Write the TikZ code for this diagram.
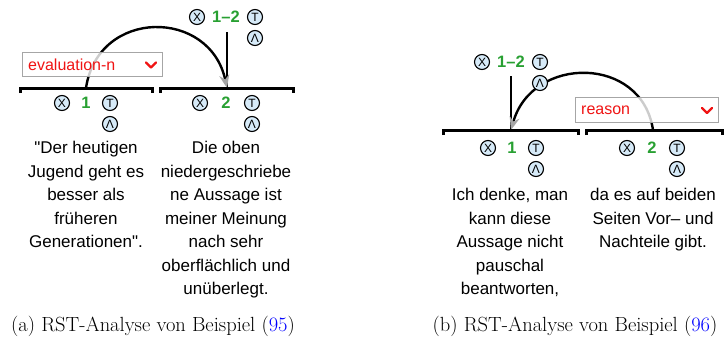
\documentclass[tikz,border=0pt]{standalone}
\usepackage{fontspec}
\newfontfamily\rstfont{Liberation Sans}
\usetikzlibrary{arrows.meta, positioning}
\definecolor{iconblue}{RGB}{214,234,248}
\definecolor{spangreen}{RGB}{40,160,50}
\definecolor{relred}{RGB}{240,20,20}

\begin{document}
\begin{tikzpicture}[x=1pt, y=-1pt, >=Stealth,
  icon/.style={circle, draw, line width=1.1pt, fill=iconblue, minimum size=15pt, inner sep=0pt, font=\rstfont\fontsize{12}{12}\selectfont},
  spanlabel/.style={text=spangreen, inner sep=0pt, font=\rstfont\bfseries\fontsize{16.5}{16.5}\selectfont},
  segtext/.style={align=center, anchor=north, inner sep=0pt, font=\rstfont\fontsize{17}{23.5}\selectfont},
  bracket/.style={line width=3pt},
  relbox/.style={draw=gray!70, line width=1pt, fill=white, fill opacity=0.8, anchor=north west, inner sep=0pt},
  reltext/.style={text=relred, anchor=west, inner sep=0pt, font=\rstfont\fontsize{16}{16}\selectfont},
  chevron/.style={draw=relred, line width=2.4pt, line cap=round, line join=round},
  relarc/.style={line width=2.4pt, -{Stealth[length=13pt, width=10pt, color=gray!70, fill=gray!70]}},
  rootline/.style={line width=2pt},
  caption/.style={font=\rmfamily\fontsize{20.5}{22}\selectfont}]
  \useasboundingbox (0,0) rectangle (728,340);

  % relation arcs (behind the boxes)
  \coordinate (a-sat) at (86,88);
  \coordinate (a-nuc) at (227,88);
  \coordinate (a-root) at (227,32);
  \coordinate (b-sat) at (653,130);
  \coordinate (b-nuc) at (511,130);
  \coordinate (b-root) at (511,76);
  \draw[rootline] (a-root) -- (a-nuc);
  \draw[rootline] (b-root) -- (b-nuc);
  \draw[relarc] (a-sat) .. controls (98,8) and (210,8) .. (a-nuc);
  \draw[relarc] (b-sat) .. controls (642,55) and (532,55) .. (b-nuc);

  % segment brackets
  \foreach \l/\r/\y in {20/152/88, 160/293/88, 443/578/130, 586/722/130} {
    \draw[bracket] (\l,\y+5) -- (\l,\y) -- (\r,\y) -- (\r,\y+5);
  }

  % relation boxes
  \node[relbox, minimum width=140pt, minimum height=24pt] (a-rel) at (22,52) {};
  \node[reltext] (a-reltext) at ([xshift=6pt]a-rel.west) {evaluation-n};
  \draw[chevron] ([xshift=-17pt, yshift=2pt]a-rel.east) -- ++(5,5) -- ++(5,-5);
  \node[relbox, minimum width=143pt, minimum height=25pt] (b-rel) at (575,97) {};
  \node[reltext] (b-reltext) at ([xshift=6pt]b-rel.west) {reason};
  \draw[chevron] ([xshift=-17pt, yshift=2pt]b-rel.east) -- ++(5,5) -- ++(5,-5);

  % span labels with icons
  \foreach \n/\x/\y/\t/\d in {a1/86/103/1/24, a2/226/103/2/26, a12/226/17/1–2/29,
                              b1/512/148/1/24, b2/652/148/2/25, b12/511/62/1–2/29} {
    \node[spanlabel] (\n-lbl) at (\x,\y) {\t};
    \node[icon] (\n-x) at ([xshift=-\d pt]\n-lbl) {X};
    \node[icon] (\n-t) at ([xshift=\d pt]\n-lbl) {T};
    \node[icon] (\n-l) at ([yshift=-21pt]\n-t) {Λ};
  }

  % segment texts
  \node[segtext] (a1-text) at (86,141) {"Der heutigen\\Jugend geht es\\besser als\\früheren\\Generationen".};
  \node[segtext] (a2-text) at (226,141) {Die oben\\niedergeschriebe\\ne Aussage ist\\meiner Meinung\\nach sehr\\oberflächlich und\\unüberlegt.};
  \node[segtext] (b1-text) at (510,188) {Ich denke, man\\kann diese\\Aussage nicht\\pauschal\\beantworten,};
  \node[segtext] (b2-text) at (653,188) {da es auf beiden\\Seiten Vor– und\\Nachteile gibt.};

  % captions
  \node[caption] (a-cap) at (153,326) {(a) RST-Analyse von Beispiel ({\color{blue}95})};
  \node[caption] (b-cap) at (575,326) {(b) RST-Analyse von Beispiel ({\color{blue}96})};
\end{tikzpicture}
\end{document}
